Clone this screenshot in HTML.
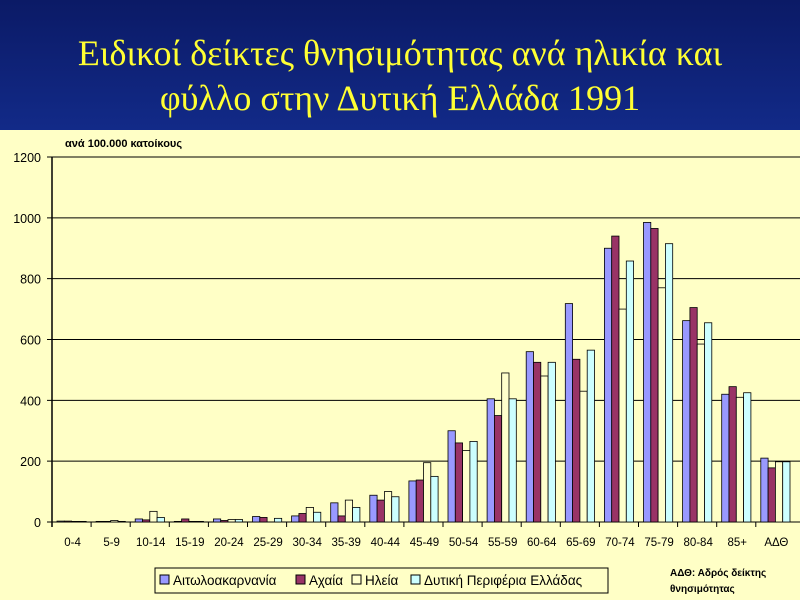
<!DOCTYPE html>
<html><head><meta charset="utf-8"><style>
body{margin:0;width:800px;height:600px;overflow:hidden;background:#FFFFC6;font-family:"Liberation Sans",sans-serif}
#hd{position:absolute;left:0;top:0;width:800px;height:130px;background:linear-gradient(#0b1a66,#122a88);}
#hd div{position:absolute;width:800px;text-align:center;color:#FFFF33;font-family:"Liberation Serif",serif;font-size:36px}
</style></head><body>
<div id="hd"><div style="top:32px">Ειδικοί δείκτες θνησιμότητας ανά ηλικία και</div><div style="top:77px">φύλλο στην Δυτική Ελλάδα 1991</div></div>
<svg width="800" height="600" style="position:absolute;left:0;top:0" font-family="Liberation Sans, sans-serif">
<text x="65" y="147" font-size="11" font-weight="bold">ανά 100.000 κατοίκους</text>
<g id="g"></g>
<rect x="155" y="568" width="453" height="25" fill="#FFFFC6" stroke="#000"/>
<rect x="160" y="575" width="9" height="9" fill="#9999FF" stroke="#000"/><text x="173" y="585" font-size="13.5">Αιτωλοακαρνανία</text>
<rect x="296" y="575" width="9" height="9" fill="#993366" stroke="#000"/><text x="309" y="585" font-size="13.5">Αχαία</text>
<rect x="352" y="575" width="9" height="9" fill="#FFFFCC" stroke="#000"/><text x="365" y="585" font-size="13.5">Ηλεία</text>
<rect x="411" y="575" width="9" height="9" fill="#CCFFFF" stroke="#000"/><text x="424" y="585" font-size="13.5">Δυτική Περιφέρια Ελλάδας</text>
<text x="670" y="576" font-size="10" font-weight="bold">ΑΔΘ: Αδρός δείκτης</text>
<text x="670" y="592" font-size="10" font-weight="bold">θνησιμότητας</text>
</svg>
<script>
var g=document.getElementById('g'),s='';
var y0=522,k=365/1200;
for(var v=0;v<=1200;v+=200){var y=y0-v*k;s+='<line x1="47" x2="800" y1="'+y+'" y2="'+y+'" stroke="#000"/><text x="41" y="'+(y+5)+'" font-size="12.5" text-anchor="end">'+v+'</text>';}
s+='<line x1="52" x2="52" y1="157" y2="527" stroke="#000" stroke-width="1.5"/>';
var cats=["0-4","5-9","10-14","15-19","20-24","25-29","30-34","35-39","40-44","45-49","50-54","55-59","60-64","65-69","70-74","75-79","80-84","85+","ΑΔΘ"];
var d=[[3,3,2,2],[2,2,5,2],[10,7,35,15],[2,10,2,2],[10,5,8,8],[18,15,0,12],[20,28,48,32],[63,20,72,48],[88,72,100,83],[135,138,195,150],[300,260,235,265],[405,350,490,405],[560,525,480,525],[718,535,430,565],[900,940,700,858],[985,965,770,915],[662,705,585,655],[420,445,410,425],[210,178,198,198]];
var col=["#9999FF","#993366","#FFFFCC","#CCFFFF"],w=39.1;
for(var i=0;i<19;i++){var x0=52+i*w;s+='<line x1="'+x0+'" x2="'+x0+'" y1="522" y2="527" stroke="#000"/>';
s+='<text x="'+(x0+w/2+1)+'" y="546" font-size="11.5" text-anchor="middle">'+cats[i]+'</text>';
for(var j=0;j<4;j++){var h=d[i][j]*k;s+='<rect x="'+(x0+5+j*7.3)+'" y="'+(y0-h)+'" width="7.3" height="'+h+'" fill="'+col[j]+'" stroke="#000" stroke-width="0.8"/>';}}
g.innerHTML=s;
</script>
</body></html>
